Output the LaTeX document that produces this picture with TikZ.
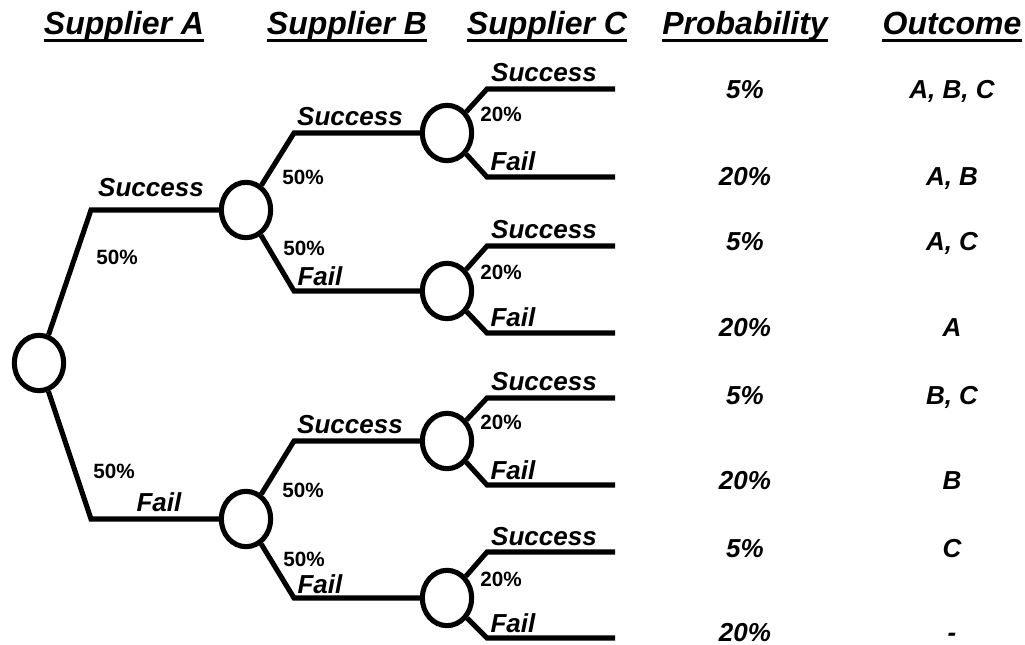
\documentclass[tikz,border=0pt]{standalone}
\usepackage{fontspec}
\setmainfont{Liberation Sans}
\usetikzlibrary{shapes.geometric}
\begin{document}
\begin{tikzpicture}[x=0.75pt,y=-0.75pt,
  chance/.style={ellipse,draw,line width=3.8pt,minimum width=37pt,minimum height=41.5pt,inner sep=0pt},
  branch/.style={line width=3.8pt,line join=miter},
  hdr/.style={font=\fontsize{24}{28}\selectfont\bfseries\itshape,anchor=base,inner sep=0pt},
  lbl/.style={font=\fontsize{19.5}{23}\selectfont\bfseries\itshape,anchor=base,inner sep=0pt},
  pct/.style={font=\fontsize{15.5}{18}\selectfont\bfseries,inner sep=0pt},
  uline/.style={line width=2.4pt}]
\useasboundingbox (0,0) rectangle (1025,645);

% headers
\foreach \n/\x/\t in {hA/124/Supplier A, hB/347/Supplier B, hC/547/Supplier C, hP/745/Probability, hO/952/Outcome}{
  \node[hdr] (\n) at (\x,35) {\t};
  \draw[uline] ([yshift=-4.3pt]\n.base west) -- ([yshift=-4.3pt]\n.base east);
}

% chance nodes
\node[chance] (R)  at (39,363) {};
\node[chance] (B1) at (246,210) {};
\node[chance] (B2) at (246,519) {};
\node[chance] (C1) at (447,133) {};
\node[chance] (C2) at (447,291) {};
\node[chance] (C3) at (447,441) {};
\node[chance] (C4) at (447,598) {};

% root branches
\coordinate (kRs) at (91,210);
\coordinate (kRf) at (91,519);
\draw[branch] (R) -- (kRs) -- (B1);
\draw[branch] (R) -- (kRf) -- (B2);
\node[lbl] (lRs) at (151,197) {Success};
\node[pct] (pRs) at (117,257) {50\%};
\node[pct] (pRf) at (114,471) {50\%};
\node[lbl] (lRf) at (159,511) {Fail};

% level-2 branches
\coordinate (kB1s) at (294,133);
\coordinate (kB1f) at (294,291);
\draw[branch] (B1) -- (kB1s) -- (C1);
\draw[branch] (B1) -- (kB1f) -- (C2);
\node[lbl] (lB1s) at (350,126) {Success};
\node[pct] (pB1s) at (303,177) {50\%};
\node[pct] (pB1f) at (304,248) {50\%};
\node[lbl] (lB1f) at (320,286) {Fail};

\coordinate (kB2s) at (294,441);
\coordinate (kB2f) at (294,598);
\draw[branch] (B2) -- (kB2s) -- (C3);
\draw[branch] (B2) -- (kB2f) -- (C4);
\node[lbl] (lB2s) at (350,433) {Success};
\node[pct] (pB2s) at (303,490) {50\%};
\node[pct] (pB2f) at (304,559) {50\%};
\node[lbl] (lB2f) at (320,593) {Fail};

% level-3 branches
\foreach \n/\y/\ys/\yf in {C1/133/89/177, C2/291/246/333, C3/441/398/485, C4/598/552/638}{
  \coordinate (k\n s) at (487,\ys);
  \coordinate (k\n f) at (487,\yf);
  \coordinate (e\n s) at (615,\ys);
  \coordinate (e\n f) at (615,\yf);
  \draw[branch] (\n) -- (k\n s) -- (e\n s);
  \draw[branch] (\n) -- (k\n f) -- (e\n f);
  \node[lbl] (l\n s) at (544,\ys-7) {Success};
  \node[pct] (p\n) at (501,\y-19) {20\%};
  \node[lbl] (l\n f) at (513,\yf-6) {Fail};
}

% probability and outcome columns
\foreach \i/\y/\p/\o in {1/99/5\%/{A, B, C}, 2/186/20\%/{A, B}, 3/251/5\%/{A, C}, 4/337/20\%/A,
                         5/404/5\%/{B, C}, 6/489/20\%/B, 7/557/5\%/C, 8/641/20\%/-}{
  \node[lbl] (prob\i) at (745,\y) {\p};
  \node[lbl] (out\i) at (952,\y) {\o};
}
\end{tikzpicture}
\end{document}
